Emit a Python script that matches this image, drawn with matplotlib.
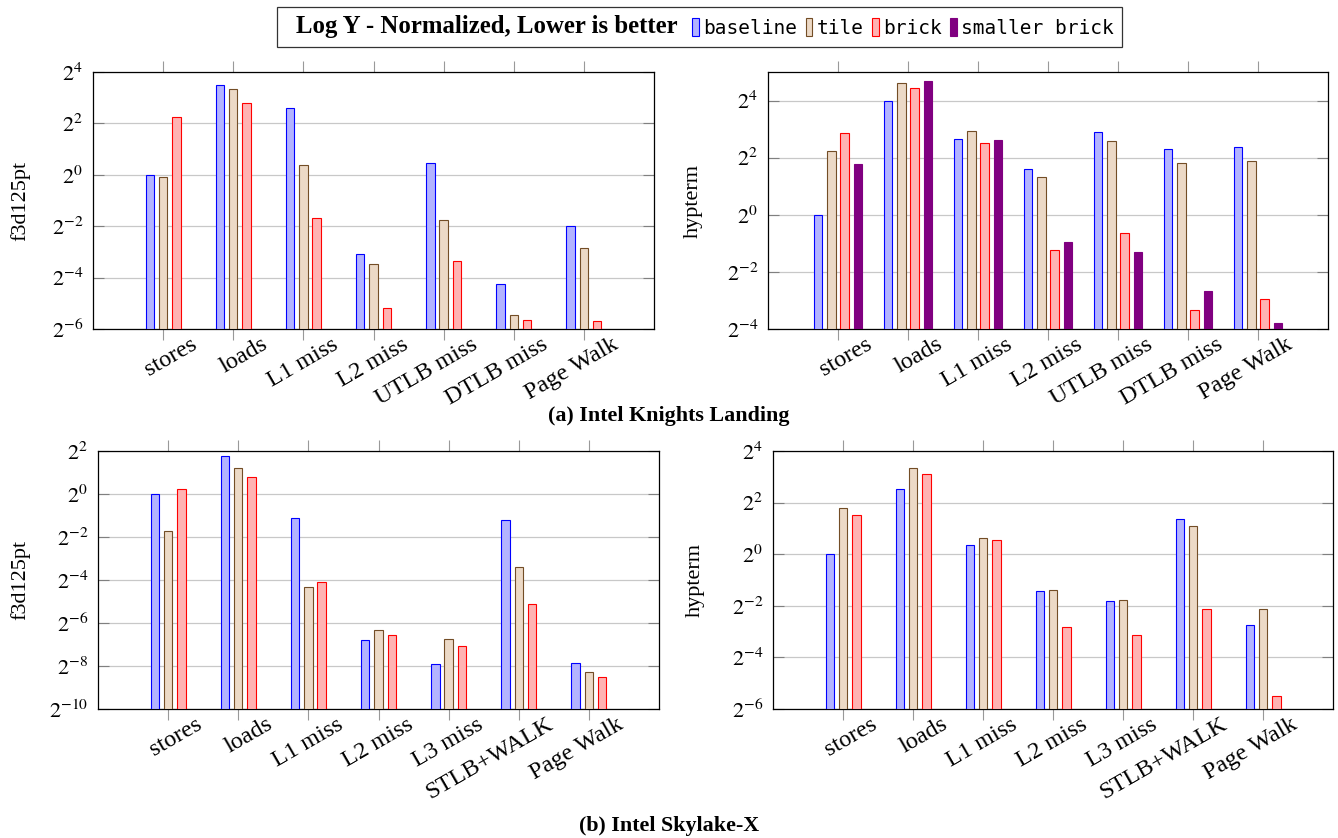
import numpy as np
import matplotlib
matplotlib.use("Agg")
import matplotlib.pyplot as plt
from matplotlib.patches import Patch
from matplotlib.ticker import FixedLocator, FuncFormatter, NullLocator
from matplotlib.transforms import ScaledTranslation

plt.rcParams['font.family'] = ['Liberation Serif', 'DejaVu Serif']
plt.rcParams['mathtext.fontset'] = 'stix'

# DATA (normalized to baseline)
knl_metrics = ['stores', 'loads', 'L1 miss', 'L2 miss', 'UTLB miss', 'DTLB miss', 'Page Walk']
skx_metrics = ['stores', 'loads', 'L1 miss', 'L2 miss', 'L3 miss', 'STLB+WALK', 'Page Walk']

knl_f3d_baseline = [1.0, 11.2, 6.1, 0.117, 1.37, 0.053, 0.25]
knl_f3d_tile = [0.94, 10.0, 1.31, 0.0896, 0.297, 0.0226, 0.138]
knl_f3d_brick = [4.72, 7.01, 0.314, 0.0272, 0.0988, 0.0199, 0.0195]

knl_hyp_baseline = [1.0, 15.9, 6.36, 3.01, 7.52, 4.89, 5.17]
knl_hyp_tile = [4.72, 24.8, 7.57, 2.53, 5.98, 3.51, 3.73]
knl_hyp_brick = [7.31, 21.9, 5.66, 0.426, 0.637, 0.0988, 0.128]
knl_hyp_smaller = [3.41, 26.0, 6.19, 0.521, 0.406, 0.159, 0.0723]

skx_f3d_baseline = [1.0, 3.39, 0.454, 0.0089, 0.00412, 0.432, 0.00424]
skx_f3d_tile = [0.302, 2.33, 0.0494, 0.0123, 0.00922, 0.0947, 0.00324]
skx_f3d_brick = [1.19, 1.74, 0.058, 0.0105, 0.00733, 0.0292, 0.00273]

skx_hyp_baseline = [1.0, 5.78, 1.27, 0.373, 0.283, 2.55, 0.148]
skx_hyp_tile = [3.43, 10.2, 1.54, 0.384, 0.293, 2.11, 0.228]
skx_hyp_brick = [2.83, 8.57, 1.45, 0.143, 0.115, 0.228, 0.0221]

series_names = ['baseline', 'tile', 'brick', 'smaller brick']
fills = ['#b3b3ff', '#ecd9c6', '#ffb3b3', '#800080']
edges = ['#0000ff', '#734d26', '#ff0000', '#800080']

W, H = 1338, 838
fig = plt.figure(figsize=(W / 100, H / 100), dpi=100)


def add_axes(left, top, right, bottom):
    return fig.add_axes([left / W, 1 - bottom / H, (right - left) / W, (bottom - top) / H])


def panel(ax, metrics, series, ylab, exp_lo, exp_hi):
    ylo = 2.0 ** exp_lo
    n = len(series)
    x = np.arange(1, len(metrics) + 1)
    width, shift = 0.12, 0.19
    for i, vals in enumerate(series):
        off = (i - (n - 1) / 2) * shift
        vals = np.array(vals)
        ax.bar(x + off, vals - ylo, bottom=ylo, width=width, color=fills[i],
               edgecolor=edges[i], linewidth=0.8, zorder=3)
    ax.set_yscale('log', base=2)
    ax.set_ylim(ylo, 2.0 ** exp_hi)
    ax.set_xlim(0, 8)
    ticks = [2.0 ** e for e in range(exp_lo, exp_hi + 1, 2)]
    ax.yaxis.set_major_locator(FixedLocator(ticks))
    ax.yaxis.set_minor_locator(NullLocator())
    ax.yaxis.set_major_formatter(FuncFormatter(lambda v, p: r'$2^{%d}$' % round(np.log2(v))))
    ax.grid(axis='y', color='#c8c8c8', linewidth=0.9, zorder=0)
    ax.set_xticks(x)
    ax.set_xticklabels(metrics, rotation=30, ha='right', va='top',
                       rotation_mode='anchor', fontsize=17.5)
    ax.tick_params(axis='x', top=True, bottom=True, direction='out', length=8,
                   color='#999999', width=0.8, pad=-4.5)
    ax.tick_params(axis='y', left=True, right=True, direction='in', length=8,
                   color='#808080', width=0.8, labelsize=16, pad=7)
    for lab in ax.get_xticklabels():
        lab.set_transform(lab.get_transform() + ScaledTranslation(0.275, 0, fig.dpi_scale_trans))
    for s in ax.spines.values():
        s.set_linewidth(0.9)
    ax.set_ylabel(ylab, fontsize=16)


ax1 = add_axes(93, 72, 654, 329)
panel(ax1, knl_metrics, [knl_f3d_baseline, knl_f3d_tile, knl_f3d_brick], 'f3d125pt', -6, 4)
ax2 = add_axes(768, 72, 1328, 329)
panel(ax2, knl_metrics, [knl_hyp_baseline, knl_hyp_tile, knl_hyp_brick, knl_hyp_smaller], 'hypterm', -4, 5)
ax3 = add_axes(98, 451, 659, 709)
panel(ax3, skx_metrics, [skx_f3d_baseline, skx_f3d_tile, skx_f3d_brick], 'f3d125pt', -10, 2)
ax4 = add_axes(773, 451, 1333, 709)
panel(ax4, skx_metrics, [skx_hyp_baseline, skx_hyp_tile, skx_hyp_brick], 'hypterm', -6, 4)

for ax, xpos in [(ax1, 30), (ax2, 703), (ax3, 30), (ax4, 705)]:
    bb = ax.get_position()
    ax.yaxis.set_label_coords((xpos / W - bb.x0) / bb.width, 0.5)

fig.text(669 / W, 1 - 416 / H, '(a) Intel Knights Landing', ha='center', va='center',
         fontsize=15.8, fontweight='bold')
fig.text(669 / W, 1 - 826 / H, '(b) Intel Skylake-X', ha='center', va='center',
         fontsize=15.8, fontweight='bold')

handles = [Patch(visible=False)] + [Patch(facecolor=f, edgecolor=e, linewidth=0.8)
                                    for f, e in zip(fills, edges)]
labels = ['Log Y - Normalized, Lower is better '] + series_names
leg = fig.legend(handles, labels, loc='center', bbox_to_anchor=(699.5 / W, 1 - 27 / H),
                 ncol=5, frameon=True, fancybox=False, edgecolor='black',
                 handlelength=0.35, handleheight=1.0, handletextpad=0.2,
                 columnspacing=0.45, borderpad=0.45, fontsize=14)
leg.get_frame().set_linewidth(0.9)
texts = leg.get_texts()
texts[0].set_fontweight('bold')
texts[0].set_fontsize(17.8)
for t in texts[1:]:
    t.set_family('DejaVu Sans Mono')
    t.set_fontsize(14)

fig.savefig('out.png', dpi=100)
